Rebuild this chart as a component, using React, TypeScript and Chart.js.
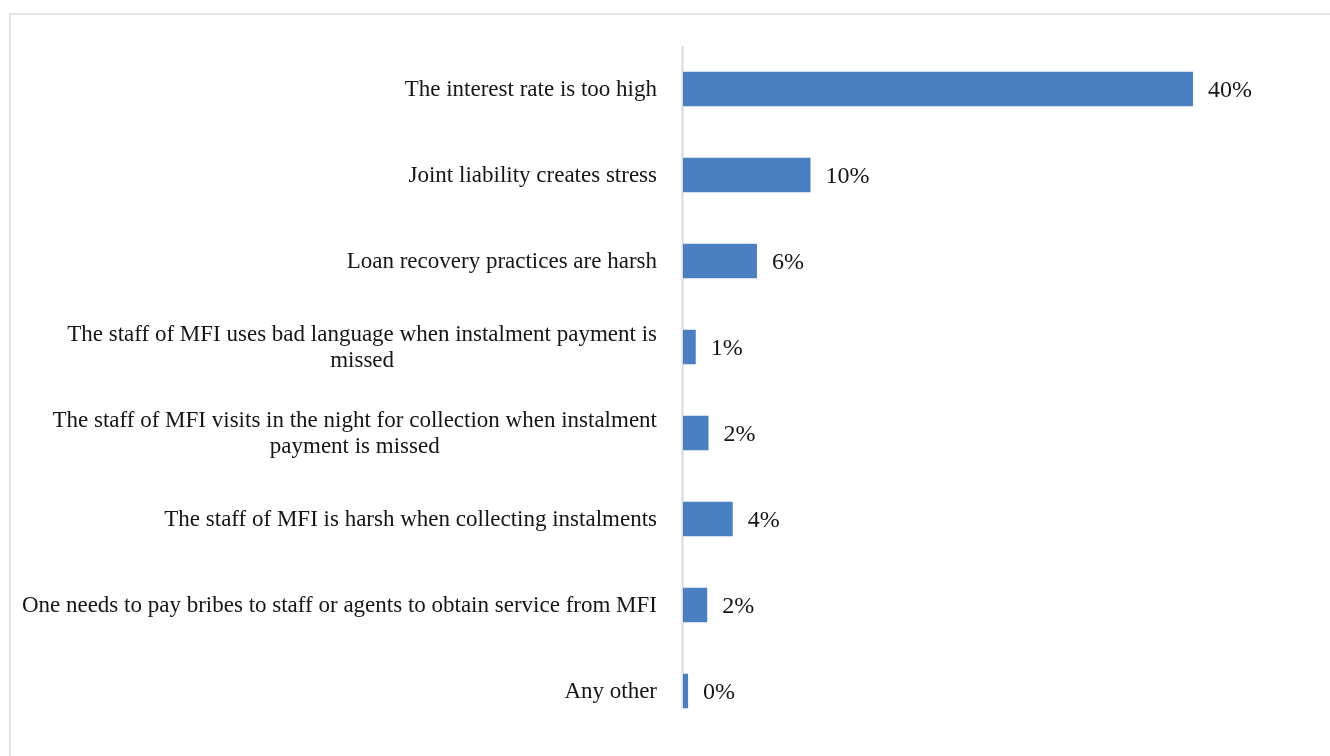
import React, { useEffect, useRef } from "react";
import { Chart, registerables } from "chart.js";

Chart.register(...registerables);

const categories: string[][] = [
  ["The interest rate is too high"],
  ["Joint liability creates stress"],
  ["Loan recovery practices are harsh"],
  ["The staff of MFI uses bad language when instalment payment is", "missed"],
  ["The staff of MFI visits in the night for collection when instalment", "payment is missed"],
  ["The staff of MFI is harsh when collecting instalments"],
  ["One needs to pay bribes to staff or agents to obtain service from MFI"],
  ["Any other"],
];

const values: number[] = [40, 10, 5.8, 1, 2, 3.9, 1.9, 0.4];
const valueLabels: string[] = ["40%", "10%", "6%", "1%", "2%", "4%", "2%", "0%"];

const FONT_FAMILY = "'Liberation Serif', serif";
const TEXT_COLOR = "#151515";
const BAR_COLOR = "#4a80c1";

const labelPlugin = {
  id: "customLabels",
  beforeDatasetsDraw(chart: any) {
    const { ctx, chartArea } = chart;
    const meta = chart.getDatasetMeta(0);
    const last = meta.data[meta.data.length - 1];
    const bottom = last.y + last.height / 2;
    ctx.save();
    ctx.strokeStyle = "#d9d9d9";
    ctx.lineWidth = 2;
    ctx.beginPath();
    ctx.moveTo(chartArea.left - 0.5, chartArea.top);
    ctx.lineTo(chartArea.left - 0.5, bottom);
    ctx.stroke();
    ctx.restore();
  },
  afterDatasetsDraw(chart: any) {
    const { ctx, chartArea } = chart;
    const yScale = chart.scales.y;
    const meta = chart.getDatasetMeta(0);
    ctx.save();
    ctx.fillStyle = TEXT_COLOR;
    ctx.font = `23px ${FONT_FAMILY}`;
    ctx.textBaseline = "middle";
    const right = chartArea.left - 26;
    const lineH = 26;
    categories.forEach((lines, i) => {
      const y = yScale.getPixelForTick(i);
      const widths = lines.map((l) => ctx.measureText(l).width);
      const maxW = Math.max(...widths);
      const cx = right - maxW / 2;
      ctx.textAlign = "center";
      lines.forEach((l, j) => {
        const ly = y + 1 + (j - (lines.length - 1) / 2) * lineH;
        ctx.fillText(l, cx, ly);
      });
    });
    ctx.font = `24px ${FONT_FAMILY}`;
    ctx.textAlign = "left";
    meta.data.forEach((bar: any, i: number) => {
      ctx.fillText(valueLabels[i], bar.x + 15, bar.y + 2);
    });
    ctx.restore();
  },
};

export default function App() {
  const ref = useRef<HTMLCanvasElement | null>(null);

  useEffect(() => {
    if (!ref.current) return;
    const chart = new Chart(ref.current, {
      type: "bar",
      data: {
        labels: categories.map((c) => c.join(" ")),
        datasets: [
          {
            data: values,
            backgroundColor: BAR_COLOR,
            borderWidth: 0,
            barPercentage: 0.4,
            categoryPercentage: 1,
          },
        ],
      },
      options: {
        indexAxis: "y",
        responsive: false,
        animation: false,
        layout: { padding: { top: 46, bottom: 22, left: 0, right: 9.5 } },
        plugins: {
          legend: { display: false },
          tooltip: { enabled: false },
        },
        scales: {
          x: { display: false, min: 0, max: 50 },
          y: {
            grid: { display: false },
            border: { display: false },
            ticks: { display: false },
            afterFit: (scale: any) => {
              scale.width = 683;
            },
          },
        },
      },
      plugins: [labelPlugin],
    } as any);
    return () => chart.destroy();
  }, []);

  return (
    <div
      style={{
        position: "fixed",
        left: 0,
        top: 0,
        width: "100vw",
        height: "100vh",
        overflow: "hidden",
        background: "#fff",
      }}
    >
      <div
        style={{
          position: "absolute",
          left: 9,
          top: 13,
          width: 1400,
          height: 800,
          border: "2px solid #e3e3e3",
          boxSizing: "border-box",
        }}
      />
      <canvas
        ref={ref}
        width={1330}
        height={756}
        style={{ position: "absolute", left: 0, top: 0, display: "block" }}
      />
    </div>
  );
}
